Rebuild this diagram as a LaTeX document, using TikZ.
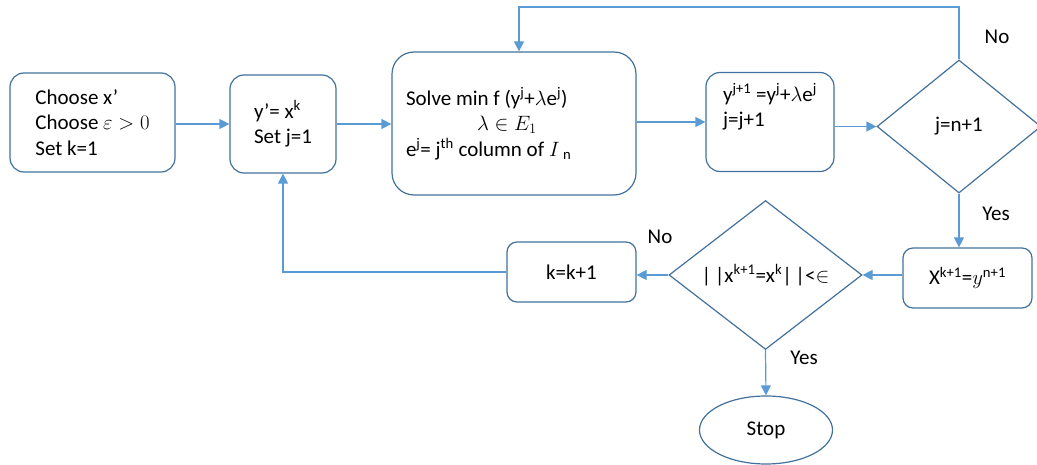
\documentclass[tikz,border=0pt]{standalone}
\usepackage{fontspec}
\setmainfont{Carlito}
\usetikzlibrary{shapes.geometric,arrows.meta}
\definecolor{boxblue}{RGB}{65,113,156}
\definecolor{arrowblue}{RGB}{91,155,213}

\begin{document}
\begin{tikzpicture}[x=1pt,y=-1pt,
    every node/.style={font=\fontsize{21}{25.5}\selectfont},
    process/.style={draw=boxblue, line width=1.2pt, rounded corners=14pt, align=left, inner ysep=0pt},
    decision/.style={draw=boxblue, line width=1.2pt, diamond, inner sep=0pt},
    flow/.style={draw=arrowblue, line width=1.2pt, -{Triangle[width=10pt,length=10pt]}}]
    % Fix the page size
    \useasboundingbox (0,0) rectangle (1037,465);

    % Top row of steps
    \node[process, minimum width=165pt, minimum height=99pt] (init) at (92.5,122.5)
        {Choose x'\\ Choose $\varepsilon > 0$\\ Set k=1};
    \node[process, minimum width=106pt, minimum height=98pt] (start) at (283,124)
        {y'= x\textsuperscript{k}\\ Set j=1};
    \node[process, minimum width=244pt, minimum height=143pt, rounded corners=22pt,
          text width=216pt, inner xsep=14pt, align=flush left] (solve) at (514,123.5)
        {Solve min f (y\textsuperscript{j}+$\lambda$e\textsuperscript{j})\\
         \hspace*{71pt}$\lambda \in E_1$\\
         e\textsuperscript{j}= j\textsuperscript{th} column of $I$\,\textsubscript{n}};
    \node[process, minimum width=128pt, minimum height=99pt] (update) at (770,122)
        {y\textsuperscript{j+1} =y\textsuperscript{j}+$\lambda$e\textsuperscript{j}\\ j=j+1\\ \strut};
    \node[decision, minimum width=164pt, minimum height=133pt] (jtest) at (959,126.5) {j=n+1};

    % Bottom row
    \node[process, minimum width=129pt, minimum height=60pt, rounded corners=10pt] (newx) at (967.5,278)
        {X\textsuperscript{k+1}=$y$\textsuperscript{n+1}};
    \node[decision, minimum width=193pt, minimum height=143pt] (xtest) at (765.5,275)
        {|\,|x\textsuperscript{k+1}=x\textsuperscript{k}|\,|<$\in$};
    \node[process, minimum width=129pt, minimum height=60pt, rounded corners=10pt] (nextk) at (571.5,272)
        {k=k+1};
    \node[ellipse, draw=boxblue, line width=1.2pt, minimum width=133pt, minimum height=68pt,
          inner sep=0pt] (stop) at (766,430) {Stop};

    % Labels on the branches
    \node (nojtest) at (997,37) {No};
    \node (yesjtest) at (996,214) {Yes};
    \node (noxtest) at (660,237) {No};
    \node (yesxtest) at (804,358) {Yes};

    % Connectors
    \coordinate (loop) at (519,7);
    \draw[flow] (init.east |- start.west) -- (start.west);
    \draw[flow] (start.east) -- (start.east -| solve.west);
    \draw[flow] (solve.east |- update.west) -- (update.west);
    \draw[flow] (update.east |- jtest.west) -- (jtest.west);
    \draw[flow] (jtest.north) |- (loop) -- (loop |- solve.north);
    \draw[flow] (jtest.south) -- (jtest.south |- newx.north);
    \draw[flow] (newx.west |- xtest.east) -- (xtest.east);
    \draw[flow] (xtest.west) -- (xtest.west -| nextk.east);
    \draw[flow] (nextk.west) -| (start.south);
    \draw[flow] (xtest.south) -- (stop.north);
\end{tikzpicture}
\end{document}
